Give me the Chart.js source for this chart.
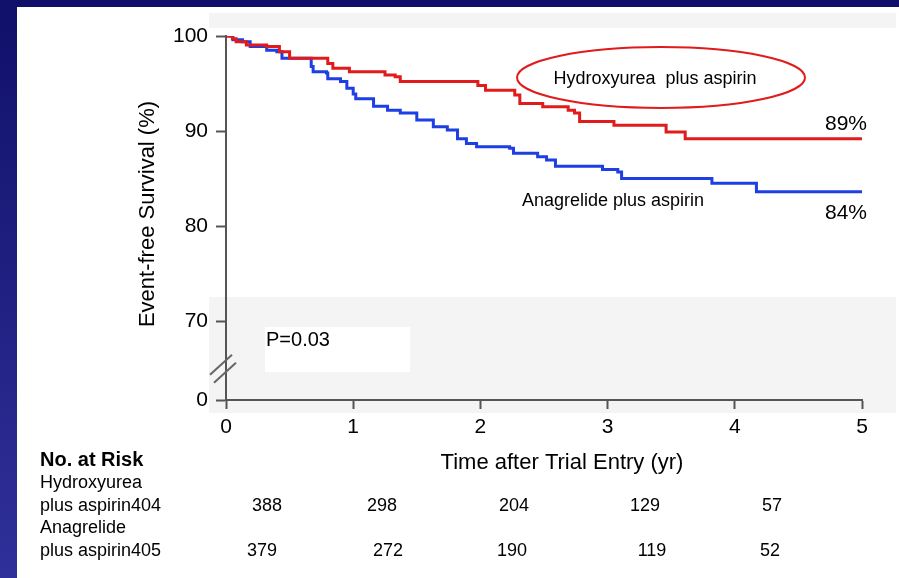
<!DOCTYPE html>
<html>
<head>
<meta charset="utf-8">
<script src="https://cdn.jsdelivr.net/npm/chart.js@4.4.1/dist/chart.umd.min.js"></script>
<style>
  html, body { margin: 0; padding: 0; background: #fff; }
  #wrap { position: relative; width: 899px; height: 578px; }
</style>
</head>
<body>
<div id="wrap"><canvas id="km" width="899" height="578"></canvas></div>
<script>
/* Kaplan-Meier: event-free survival, hydroxyurea vs anagrelide (both plus aspirin) */

// event times (yr) and survival (%) after each step
const hydroxT = [0, 0.05, 0.08, 0.16, 0.32, 0.42, 0.50, 0.80, 0.84, 0.97, 1.25, 1.33, 1.37, 1.98, 2.04, 2.27, 2.31, 2.49, 2.69, 2.74, 2.78, 3.05, 3.46, 3.61, 5.0];
const hydroxS = [100, 99.7, 99.4, 99.05, 98.9, 98.35, 97.65, 97.1, 96.6, 96.25, 95.9, 95.7, 95.2, 94.8, 94.3, 93.8, 92.9, 92.55, 92.2, 91.9, 91.0, 90.6, 89.9, 89.2, 89.2];

const anagT = [0, 0.055, 0.13, 0.19, 0.32, 0.40, 0.44, 0.67, 0.685, 0.79, 0.80, 0.90, 0.95, 1.00, 1.02, 1.16, 1.27, 1.37, 1.50, 1.63, 1.74, 1.82, 1.89, 1.97, 2.23, 2.26, 2.45, 2.52, 2.59, 2.96, 3.08, 3.11, 3.82, 4.17, 5.0];
const anagS = [100, 99.6, 99.4, 98.9, 98.5, 98.35, 97.65, 96.8, 96.25, 96.1, 95.5, 95.2, 94.5, 93.9, 93.4, 92.6, 92.2, 91.9, 91.15, 90.45, 90.1, 89.2, 88.7, 88.35, 88.2, 87.65, 87.3, 86.95, 86.3, 85.95, 85.7, 85.0, 84.5, 83.6, 83.6];

// axes
const xTicks = [0, 1, 2, 3, 4, 5];
const yTicks = [70, 80, 90, 100];
const yBreakMin = 61.7;          // where the broken axis shows "0"
const yBreakLabel = '0';

// number at risk
const riskHydrox = [404, 388, 298, 204, 129, 57];
const riskAnag = [405, 379, 272, 190, 119, 52];

const RED = '#e11b1b';
const BLUE = '#1d3fe3';
const AXIS = '#555';
const FONT = '"Liberation Sans", Arial, sans-serif';

const toPts = (t, s) => t.map((x, i) => ({ x, y: s[i] }));

const decor = {
  id: 'decor',
  beforeDraw(chart) {
    const ctx = chart.ctx;
    ctx.save();
    ctx.fillStyle = '#fff';
    ctx.fillRect(0, 0, 899, 578);
    // slide frame
    const g = ctx.createLinearGradient(0, 0, 0, 578);
    g.addColorStop(0, '#10106a');
    g.addColorStop(1, '#30309a');
    ctx.fillStyle = g;
    ctx.fillRect(0, 0, 17, 578);
    ctx.fillStyle = '#10106a';
    ctx.fillRect(0, 0, 899, 7);
    // pale panels
    ctx.fillStyle = '#f4f4f4';
    ctx.fillRect(209, 13, 687, 15);
    ctx.fillRect(209, 297, 687, 116);
    ctx.fillStyle = '#fff';
    ctx.fillRect(265, 327, 145, 45);
    ctx.restore();
  },
  afterDraw(chart) {
    const ctx = chart.ctx;
    const { y } = chart.scales;
    const left = chart.chartArea.left;
    ctx.save();

    // axis break marks
    ctx.strokeStyle = '#666';
    ctx.lineWidth = 2;
    const by = y.getPixelForValue(65.4);
    [[-4, 0], [0, 8]].forEach(([dx, dy]) => {
      ctx.beginPath();
      ctx.moveTo(left - 12 + dx, by + 10 + dy);
      ctx.lineTo(left + 10 + dx, by - 10 + dy);
      ctx.stroke();
    });

    ctx.fillStyle = '#000';
    // axis titles
    ctx.font = '22px ' + FONT;
    ctx.textAlign = 'center';
    ctx.textBaseline = 'middle';
    ctx.save();
    ctx.translate(148, 214);
    ctx.rotate(-Math.PI / 2);
    ctx.fillText('Event-free Survival (%)', 0, 0);
    ctx.restore();
    ctx.fillText('Time after Trial Entry (yr)', 562, 463);

    // P value
    ctx.font = '20px ' + FONT;
    ctx.textAlign = 'left';
    ctx.fillText('P=0.03', 266, 340);

    // series labels
    ctx.strokeStyle = RED;
    ctx.lineWidth = 2;
    ctx.beginPath();
    ctx.ellipse(661, 77.5, 144, 30.5, 0, 0, Math.PI * 2);
    ctx.stroke();
    ctx.font = '18px ' + FONT;
    ctx.textAlign = 'center';
    ctx.fillText('Hydroxyurea  plus aspirin', 655, 79);
    ctx.textAlign = 'left';
    ctx.fillText('Anagrelide plus aspirin', 522, 201);
    ctx.font = '21px ' + FONT;
    ctx.textAlign = 'right';
    ctx.fillText(hydroxS[hydroxS.length - 1].toFixed(0) + '%', 867, 124);
    ctx.fillText(anagS[anagS.length - 1].toFixed(0) + '%', 867, 213);

    // number at risk table
    ctx.textAlign = 'left';
    ctx.font = 'bold 20px ' + FONT;
    ctx.fillText('No. at Risk', 40, 460);
    ctx.font = '18px ' + FONT;
    ctx.fillText('Hydroxyurea', 40, 483);
    ctx.fillText('plus aspirin' + riskHydrox[0], 40, 506);
    ctx.fillText('Anagrelide', 40, 528);
    ctx.fillText('plus aspirin' + riskAnag[0], 40, 551);
    ctx.textAlign = 'center';
    const colA = [267, 382, 514, 645, 772];
    const colB = [262, 388, 512, 652, 770];
    riskHydrox.slice(1).forEach((n, i) => ctx.fillText(String(n), colA[i], 506));
    riskAnag.slice(1).forEach((n, i) => ctx.fillText(String(n), colB[i], 551));

    ctx.restore();
  },
};

new Chart(document.getElementById('km'), {
  type: 'line',
  data: {
    datasets: [
      { label: 'Hydroxyurea plus aspirin', data: toPts(hydroxT, hydroxS), borderColor: RED, borderWidth: 3, stepped: 'before', pointRadius: 0, fill: false },
      { label: 'Anagrelide plus aspirin', data: toPts(anagT, anagS), borderColor: BLUE, borderWidth: 3, stepped: 'before', pointRadius: 0, fill: false },
    ],
  },
  options: {
    responsive: false,
    animation: false,
    events: [],
    layout: { padding: { left: 0, top: 36, right: 37, bottom: 0 } },
    plugins: { legend: { display: false }, tooltip: { enabled: false } },
    scales: {
      x: {
        type: 'linear',
        min: 0, max: 5,
        afterFit: s => { s.height = 178; },
        afterBuildTicks: s => { s.ticks = xTicks.map(v => ({ value: v })); },
        grid: { drawOnChartArea: false, drawTicks: true, tickLength: 9, tickWidth: 2, tickColor: AXIS },
        border: { color: AXIS, width: 2 },
        ticks: { color: '#000', padding: 6, font: { family: FONT, size: 21 }, callback: v => String(v) },
      },
      y: {
        type: 'linear',
        min: yBreakMin, max: 100,
        afterFit: s => { s.width = 226; },
        afterBuildTicks: s => { s.ticks = [yBreakMin, ...yTicks].map(v => ({ value: v })); },
        grid: { drawOnChartArea: false, drawTicks: true, tickLength: 10, tickWidth: 2, tickColor: AXIS },
        border: { color: AXIS, width: 2 },
        ticks: { color: '#000', padding: 8, font: { family: FONT, size: 21 }, callback: v => v === yBreakMin ? yBreakLabel : String(v) },
      },
    },
  },
  plugins: [decor],
});
</script>
</body>
</html>
